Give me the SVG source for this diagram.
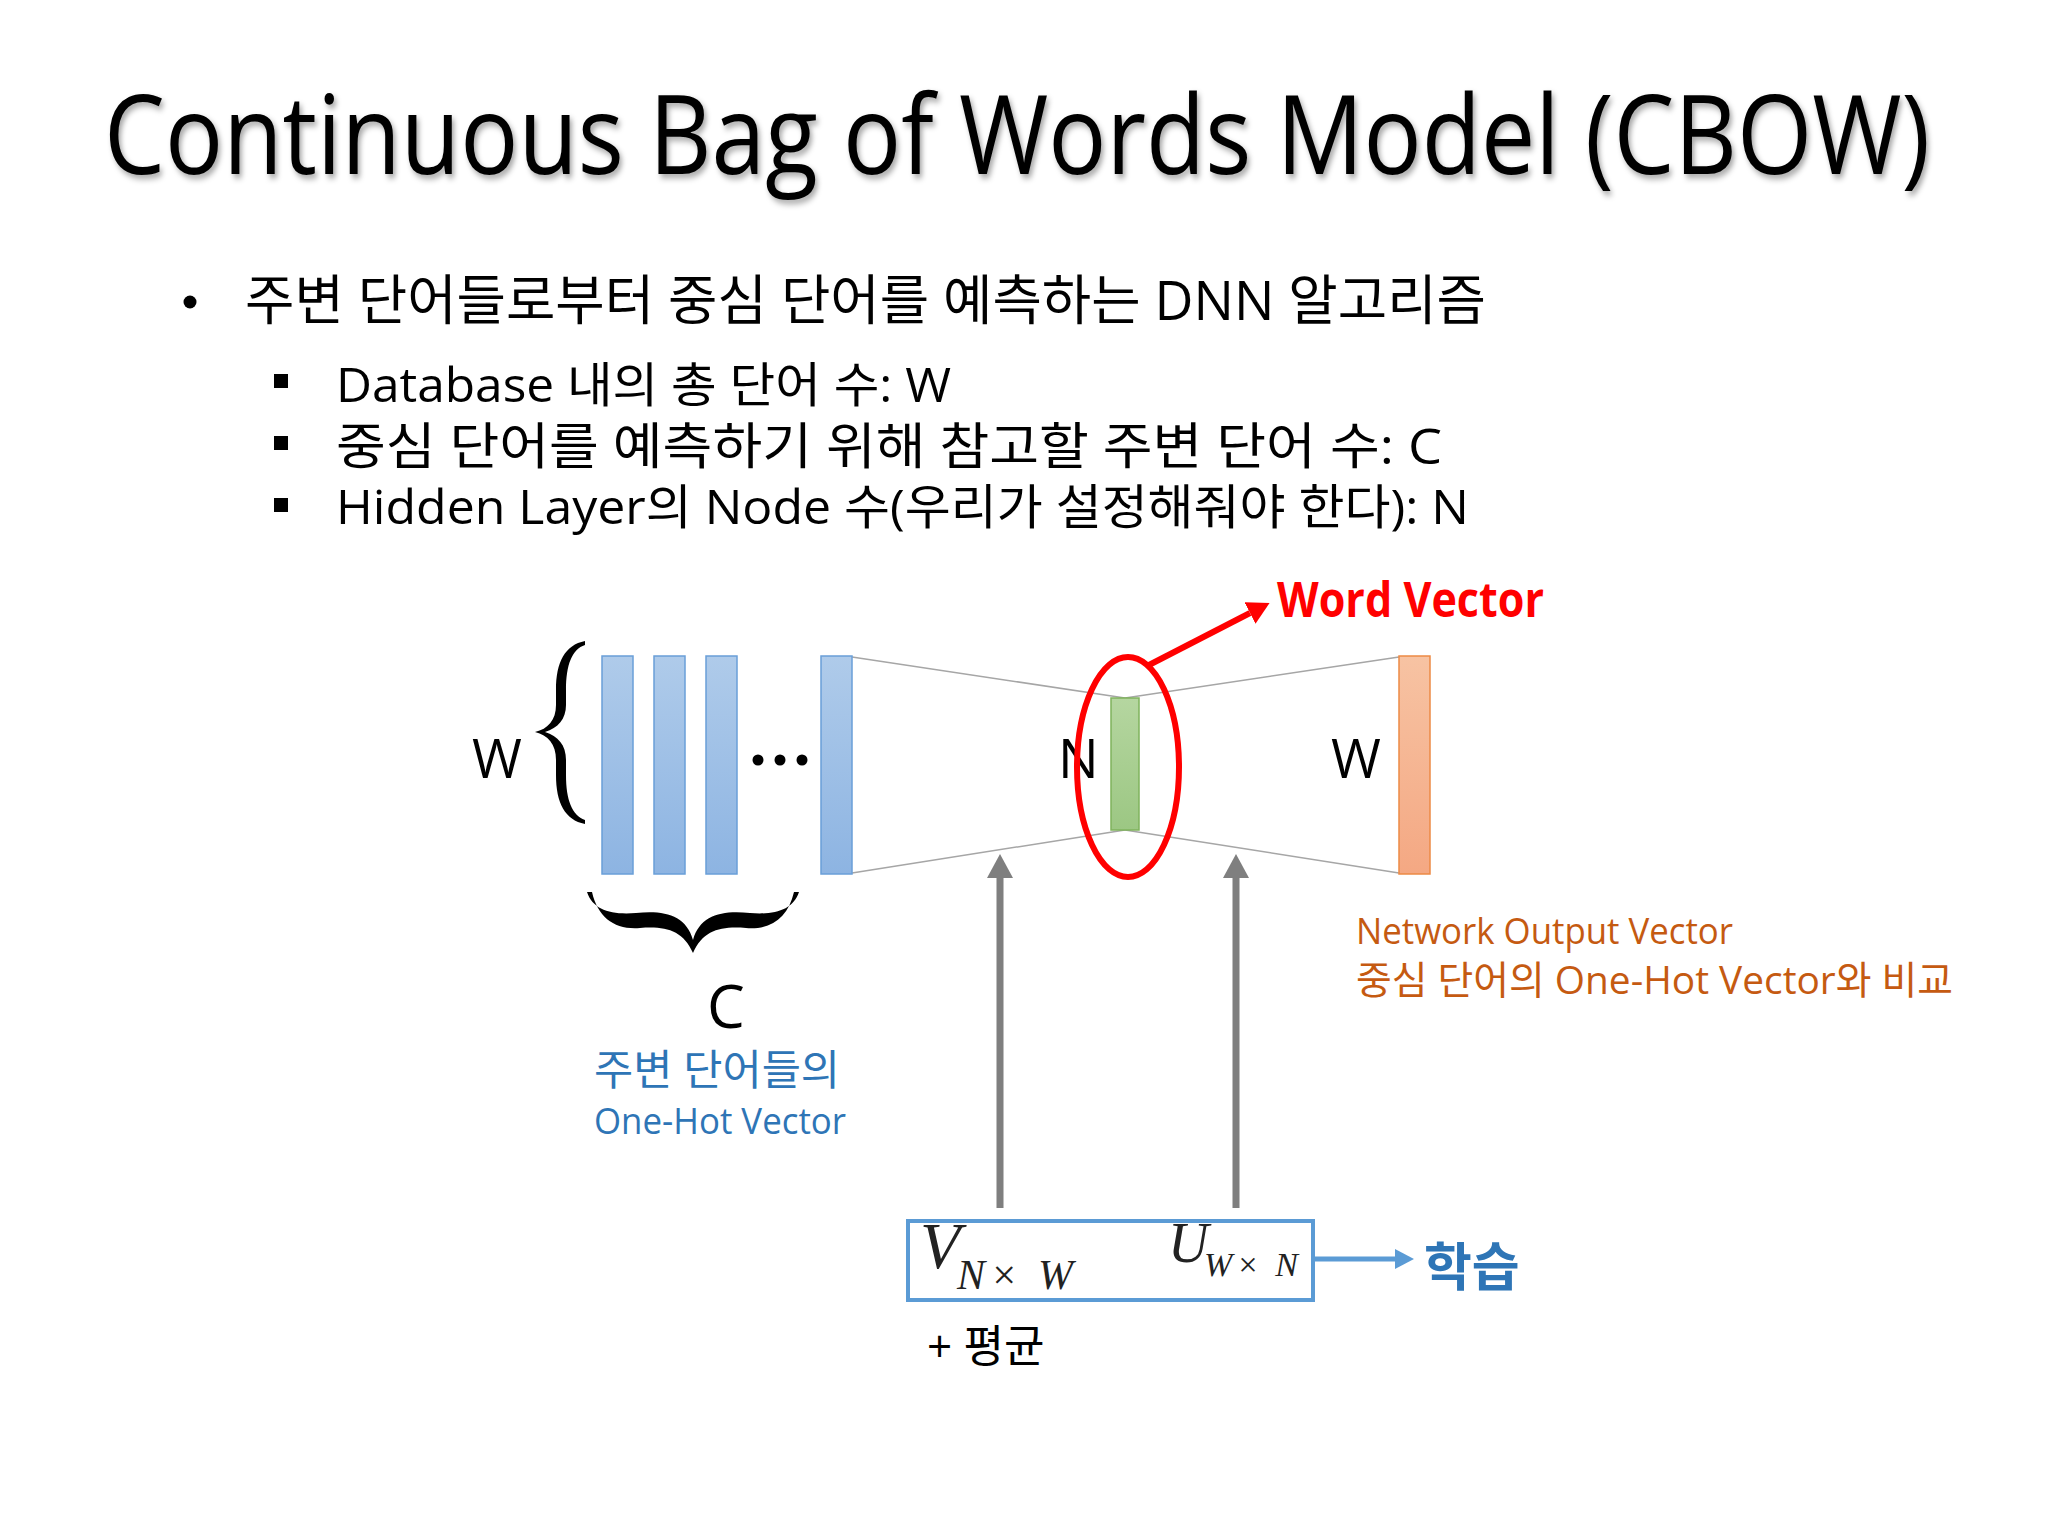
<svg xmlns="http://www.w3.org/2000/svg" width="2048" height="1536" viewBox="0 0 2048 1536">
<defs>
<style>
.t{font-family:"Open Sans","Noto Sans CJK KR",sans-serif;fill:#000}
.kr{font-family:"Open Sans","Noto Sans CJK KR",sans-serif}
.math{font-family:"Liberation Serif","DejaVu Serif",serif;font-style:italic;fill:#222}
.thin{stroke:#a6a6a6;stroke-width:1.5;fill:none}
.gray{stroke:#7f7f7f;stroke-width:7;fill:none}
</style>
<linearGradient id="gBlue" x1="0" y1="0" x2="0" y2="1"><stop offset="0" stop-color="#afcbea"/><stop offset="1" stop-color="#8db4e2"/></linearGradient>
<linearGradient id="gGreen" x1="0" y1="0" x2="0" y2="1"><stop offset="0" stop-color="#b5d6a0"/><stop offset="1" stop-color="#9cc783"/></linearGradient>
<linearGradient id="gOrange" x1="0" y1="0" x2="0" y2="1"><stop offset="0" stop-color="#f7c3a3"/><stop offset="1" stop-color="#f4a883"/></linearGradient>
<filter id="shadow" x="-5%" y="-30%" width="110%" height="160%"><feDropShadow dx="3" dy="4" stdDeviation="3" flood-color="#000" flood-opacity="0.35"/></filter>
<marker id="mGray" markerUnits="userSpaceOnUse" markerWidth="26" markerHeight="26" refX="0" refY="13" orient="auto"><path d="M0,0 L24,13 L0,26 Z" fill="#7f7f7f"/></marker>
<marker id="mRed" markerUnits="userSpaceOnUse" markerWidth="24" markerHeight="24" refX="0" refY="12" orient="auto"><path d="M0,0 L22,12 L0,24 Z" fill="#ff0000"/></marker>
<marker id="mBlue" markerUnits="userSpaceOnUse" markerWidth="20" markerHeight="20" refX="0" refY="10" orient="auto"><path d="M0,0 L19,10 L0,20 Z" fill="#5b9bd5"/></marker>
</defs>
<rect width="2048" height="1536" fill="#ffffff"/>

<g id="title">
<text class="t" transform="translate(104,174) scale(0.82,1)" x="0" y="0" font-size="110" textLength="2227" lengthAdjust="spacingAndGlyphs" filter="url(#shadow)">Continuous Bag of Words Model (CBOW)</text>
</g>

<g id="bullets">
<circle cx="190" cy="302" r="6.5" fill="#000"/>
<text class="t" x="245" y="320" font-size="54" textLength="1241" lengthAdjust="spacingAndGlyphs">주변 단어들로부터 중심 단어를 예측하는 DNN 알고리즘</text>
<rect x="274" y="374" width="14" height="14" fill="#000"/>
<text class="t" x="336" y="402" font-size="48" textLength="615" lengthAdjust="spacingAndGlyphs">Database 내의 총 단어 수: W</text>
<rect x="274" y="436" width="14" height="14" fill="#000"/>
<text class="t" x="336" y="464" font-size="50" textLength="1106" lengthAdjust="spacingAndGlyphs">중심 단어를 예측하기 위해 참고할 주변 단어 수: C</text>
<rect x="274" y="498" width="14" height="14" fill="#000"/>
<text class="t" x="336" y="524" font-size="48" textLength="1133" lengthAdjust="spacingAndGlyphs">Hidden Layer의 Node 수(우리가 설정해줘야 한다): N</text>
</g>

<g id="connectors">
<line class="thin" x1="852" y1="657" x2="1125" y2="698"/>
<line class="thin" x1="852" y1="873" x2="1125" y2="830"/>
<line class="thin" x1="1125" y1="698" x2="1399" y2="657"/>
<line class="thin" x1="1125" y1="830" x2="1399" y2="873"/>
<line class="gray" x1="1000" y1="1208" x2="1000" y2="878" marker-end="url(#mGray)"/>
<line class="gray" x1="1236" y1="1208" x2="1236" y2="878" marker-end="url(#mGray)"/>
<line x1="1149" y1="665" x2="1250" y2="613" stroke="#ff0000" stroke-width="6" marker-end="url(#mRed)"/>
<line x1="1315" y1="1259" x2="1395" y2="1259" stroke="#5b9bd5" stroke-width="5" marker-end="url(#mBlue)"/>
</g>

<g id="input-vectors">
<rect x="602" y="656" width="31" height="218" fill="url(#gBlue)" stroke="#6a9fd8" stroke-width="1.5"/>
<rect x="654" y="656" width="31" height="218" fill="url(#gBlue)" stroke="#6a9fd8" stroke-width="1.5"/>
<rect x="706" y="656" width="31" height="218" fill="url(#gBlue)" stroke="#6a9fd8" stroke-width="1.5"/>
<rect x="821" y="656" width="31" height="218" fill="url(#gBlue)" stroke="#6a9fd8" stroke-width="1.5"/>
<circle cx="758" cy="760" r="5.5" fill="#000"/>
<circle cx="780" cy="760" r="5.5" fill="#000"/>
<circle cx="802" cy="760" r="5.5" fill="#000"/>
<text class="t" x="472" y="778" font-size="54">W</text>
<path d="M585,641 C565,645 556,662 556,690 L556,705 C556,720 548,729 535,732 C548,735 556,744 556,760 L556,775 C556,803 565,820 585,824 L585,820 C572,815 566,800 566,775 L566,760 C566,745 558,736 545,732 C558,728 566,719 566,705 L566,690 C566,665 572,649 585,645 Z" fill="#000"/>
<path d="M592,892 C598,918 615,930 640,928 C665,926 683,930 693,953 C703,930 721,926 746,928 C771,930 788,918 794,892 L799,892 C793,910 775,915 750,913 C722,910 700,915 693,940 C686,915 664,910 636,913 C611,915 593,910 587,892 Z" fill="#000"/>
<text class="t" x="707" y="1028" font-size="60">C</text>
<text class="kr" x="594" y="1085" font-size="42" fill="#2e75b6" textLength="246" lengthAdjust="spacingAndGlyphs">주변 단어들의</text>
<text class="kr" x="594" y="1134" font-size="37" fill="#2e75b6" textLength="252" lengthAdjust="spacingAndGlyphs">One-Hot Vector</text>
</g>

<g id="hidden-layer">
<text class="t" x="1058" y="778" font-size="54">N</text>
<rect x="1111" y="698" width="28" height="132" fill="url(#gGreen)" stroke="#7fb35c" stroke-width="1.5"/>
<ellipse cx="1128" cy="767" rx="51" ry="110" fill="none" stroke="#ff0000" stroke-width="6"/>
<text x="1277" y="617" font-family="'Open Sans',sans-serif" font-weight="bold" font-size="48" fill="#ff0000" textLength="267" lengthAdjust="spacingAndGlyphs">Word Vector</text>
</g>

<g id="output-vector">
<text class="t" x="1331" y="778" font-size="54">W</text>
<rect x="1399" y="656" width="31" height="218" fill="url(#gOrange)" stroke="#ed8a45" stroke-width="1.5"/>
<text class="kr" x="1356" y="944" font-size="36" fill="#c55a11" textLength="377" lengthAdjust="spacingAndGlyphs">Network Output Vector</text>
<text class="kr" x="1356" y="994" font-size="39" fill="#c55a11" textLength="597" lengthAdjust="spacingAndGlyphs">중심 단어의 One-Hot Vector와 비교</text>
</g>

<g id="weights">
<rect x="908" y="1221" width="405" height="79" fill="#ffffff" stroke="#5b9bd5" stroke-width="4"/>
<text class="math" x="920" y="1268" font-size="66">V</text>
<text class="math" x="957" y="1289" font-size="42" textLength="116" lengthAdjust="spacing">N× W</text>
<text class="math" x="1168" y="1262" font-size="56">U</text>
<text class="math" x="1204" y="1276" font-size="34" textLength="94" lengthAdjust="spacing">W× N</text>
<text class="t" x="927" y="1362" font-size="44">+ 평균</text>
<text x="1424" y="1286" font-family="'Noto Sans CJK KR',sans-serif" font-weight="bold" font-size="52" fill="#2e75b6">학습</text>
</g>
</svg>
